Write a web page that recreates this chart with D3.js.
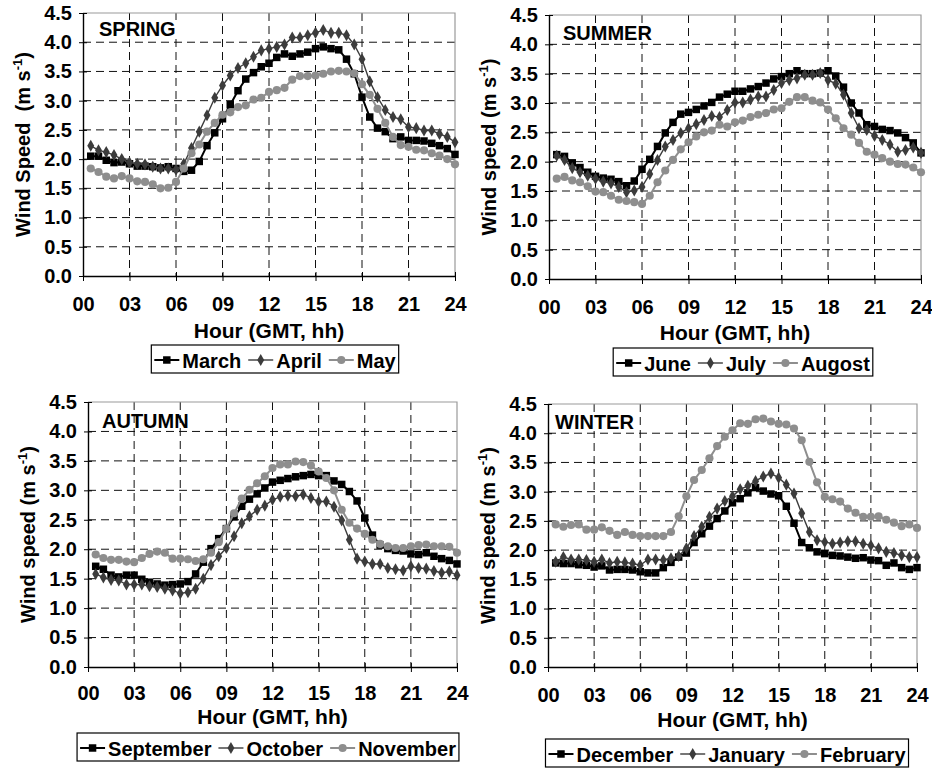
<!DOCTYPE html>
<html>
<head>
<meta charset="utf-8">
<script src="https://cdn.jsdelivr.net/npm/d3@7/dist/d3.min.js"></script>
<style>
    body { margin: 0; background: #fff; }
    text { font-family: "Liberation Sans", Arial, sans-serif; font-weight: bold; fill: #000; }
</style>
</head>
<body>
<svg id="chart" width="932" height="769"></svg>
<script>

// half-hourly means, hour of day (GMT)
var hours = [0.5, 1, 1.5, 2, 2.5, 3, 3.5, 4, 4.5, 5, 5.5, 6,
             6.5, 7, 7.5, 8, 8.5, 9, 9.5, 10, 10.5, 11, 11.5, 12,
             12.5, 13, 13.5, 14, 14.5, 15, 15.5, 16, 16.5, 17, 17.5, 18,
             18.5, 19, 19.5, 20, 20.5, 21, 21.5, 22, 22.5, 23, 23.5, 24];

var hour_ticks = [0, 3, 6, 9, 12, 15, 18, 21, 24];
var hour_labels = ["00", "03", "06", "09", "12", "15", "18", "21", "24"];
var speed_ticks = [0, 0.5, 1, 1.5, 2, 2.5, 3, 3.5, 4, 4.5];

// spring
var march = [2.05, 2.05, 1.98, 1.94, 1.95, 1.92, 1.88, 1.88, 1.87, 1.85, 1.87, 1.84,
             1.79, 1.81, 1.96, 2.23, 2.45, 2.69, 2.93, 3.17, 3.37, 3.48, 3.58, 3.64,
             3.74, 3.80, 3.76, 3.80, 3.83, 3.89, 3.92, 3.89, 3.87, 3.71, 3.46, 3.06,
             2.72, 2.53, 2.47, 2.35, 2.38, 2.32, 2.32, 2.31, 2.27, 2.23, 2.18, 2.08];
var april = [2.23, 2.15, 2.12, 2.07, 2.00, 1.94, 1.92, 1.91, 1.87, 1.84, 1.84, 1.82,
             1.92, 2.19, 2.47, 2.75, 3.05, 3.26, 3.43, 3.56, 3.64, 3.75, 3.86, 3.89,
             3.92, 3.96, 4.08, 4.08, 4.12, 4.16, 4.21, 4.16, 4.16, 4.12, 3.96, 3.71,
             3.33, 3.06, 2.84, 2.72, 2.68, 2.55, 2.53, 2.49, 2.49, 2.43, 2.38, 2.29];
var may = [1.84, 1.78, 1.70, 1.67, 1.71, 1.67, 1.62, 1.61, 1.57, 1.50, 1.51, 1.61,
           1.84, 2.10, 2.25, 2.47, 2.62, 2.76, 2.80, 2.89, 2.92, 3.02, 3.05, 3.15,
           3.18, 3.22, 3.36, 3.42, 3.42, 3.43, 3.46, 3.50, 3.51, 3.50, 3.47, 3.28,
           3.10, 2.86, 2.62, 2.38, 2.24, 2.21, 2.16, 2.15, 2.10, 2.06, 2.00, 1.91];

// summer
var june = [2.12, 2.09, 1.98, 1.90, 1.82, 1.75, 1.72, 1.70, 1.66, 1.59, 1.67, 1.87,
            2.04, 2.26, 2.49, 2.67, 2.81, 2.84, 2.89, 2.95, 3.01, 3.10, 3.15, 3.20,
            3.20, 3.24, 3.28, 3.34, 3.41, 3.45, 3.50, 3.55, 3.50, 3.50, 3.51, 3.55,
            3.46, 3.27, 3.00, 2.83, 2.63, 2.60, 2.55, 2.53, 2.49, 2.41, 2.32, 2.15];
var july = [2.10, 2.03, 1.89, 1.82, 1.76, 1.71, 1.66, 1.63, 1.57, 1.48, 1.51, 1.57,
            1.79, 2.03, 2.26, 2.37, 2.49, 2.57, 2.64, 2.71, 2.78, 2.76, 2.88, 3.01,
            3.01, 3.06, 3.11, 3.11, 3.22, 3.34, 3.39, 3.42, 3.48, 3.48, 3.51, 3.39,
            3.33, 3.14, 2.83, 2.57, 2.54, 2.44, 2.37, 2.29, 2.17, 2.20, 2.24, 2.15];
var augost = [1.71, 1.74, 1.68, 1.65, 1.58, 1.49, 1.48, 1.42, 1.35, 1.33, 1.31, 1.28,
              1.42, 1.65, 1.85, 2.03, 2.21, 2.33, 2.43, 2.50, 2.53, 2.63, 2.60, 2.67,
              2.70, 2.76, 2.80, 2.83, 2.89, 2.91, 3.02, 3.10, 3.10, 3.04, 3.01, 2.89,
              2.74, 2.57, 2.46, 2.32, 2.17, 2.12, 2.06, 2.00, 1.96, 1.95, 1.90, 1.82];

// autumn
var september = [1.71, 1.66, 1.56, 1.53, 1.56, 1.56, 1.49, 1.44, 1.41, 1.39, 1.40, 1.41,
                 1.45, 1.58, 1.78, 2.01, 2.18, 2.35, 2.55, 2.73, 2.85, 2.94, 3.04, 3.14,
                 3.17, 3.20, 3.23, 3.25, 3.27, 3.25, 3.25, 3.16, 3.10, 2.98, 2.82, 2.53,
                 2.24, 2.07, 2.01, 1.98, 1.97, 1.92, 1.91, 1.94, 1.88, 1.84, 1.81, 1.75];
var october = [1.58, 1.52, 1.48, 1.47, 1.40, 1.40, 1.40, 1.37, 1.36, 1.33, 1.30, 1.25,
               1.27, 1.33, 1.50, 1.73, 1.88, 2.02, 2.22, 2.44, 2.56, 2.67, 2.74, 2.84,
               2.89, 2.91, 2.90, 2.93, 2.87, 2.81, 2.81, 2.72, 2.49, 2.16, 1.84, 1.79,
               1.75, 1.75, 1.68, 1.66, 1.64, 1.71, 1.68, 1.67, 1.63, 1.60, 1.62, 1.56];
var november = [1.91, 1.85, 1.82, 1.82, 1.79, 1.78, 1.85, 1.92, 1.96, 1.94, 1.84, 1.84,
                1.83, 1.80, 1.83, 1.94, 2.12, 2.35, 2.61, 2.86, 3.01, 3.12, 3.24, 3.38,
                3.44, 3.44, 3.49, 3.48, 3.42, 3.32, 3.21, 3.00, 2.67, 2.45, 2.35, 2.26,
                2.16, 2.09, 2.05, 2.02, 2.02, 2.05, 2.07, 2.08, 2.05, 2.05, 2.04, 1.94];

// winter
var december = [1.78, 1.77, 1.77, 1.75, 1.74, 1.71, 1.73, 1.66, 1.67, 1.67, 1.66, 1.63,
                1.61, 1.61, 1.70, 1.79, 1.88, 1.95, 2.13, 2.28, 2.41, 2.54, 2.67, 2.81,
                2.88, 2.98, 3.07, 3.01, 2.96, 2.93, 2.75, 2.46, 2.13, 2.04, 1.97, 1.94,
                1.91, 1.90, 1.88, 1.86, 1.87, 1.83, 1.82, 1.74, 1.78, 1.70, 1.67, 1.70];
var january = [1.80, 1.88, 1.84, 1.84, 1.83, 1.80, 1.84, 1.78, 1.80, 1.79, 1.77, 1.74,
               1.84, 1.84, 1.83, 1.86, 1.90, 2.03, 2.24, 2.40, 2.57, 2.71, 2.84, 2.92,
               3.04, 3.10, 3.18, 3.26, 3.31, 3.24, 3.12, 2.97, 2.63, 2.31, 2.17, 2.14,
               2.11, 2.13, 2.15, 2.15, 2.11, 2.08, 2.03, 1.97, 1.95, 1.91, 1.88, 1.88];
var february = [2.44, 2.40, 2.43, 2.44, 2.35, 2.35, 2.39, 2.33, 2.26, 2.31, 2.26, 2.24,
                2.24, 2.24, 2.24, 2.31, 2.58, 2.92, 3.20, 3.37, 3.57, 3.78, 3.94, 4.05,
                4.17, 4.16, 4.24, 4.25, 4.20, 4.16, 4.15, 4.08, 3.88, 3.51, 3.16, 2.91,
                2.87, 2.83, 2.71, 2.64, 2.57, 2.57, 2.58, 2.52, 2.47, 2.41, 2.44, 2.38];

var season_names = ["SPRING", "SUMMER", "AUTUMN", "WINTER"];
var month_names = [["March", "April", "May"],
                   ["June", "July", "Augost"],
                   ["September", "October", "November"],
                   ["December", "January", "February"]];
var month_values = [[march, april, may],
                    [june, july, augost],
                    [september, october, november],
                    [december, january, february]];
var speed_words = ["Wind Speed\u00a0 (m s", "Wind speed (m s", "Wind speed (m s", "Wind speed (m s"];

// plot boxes of the four panels
var panels = [
    {left: 83, right: 455, top: 13, bottom: 276, tick_pad: 16, title_gap: 62, legend_gap: 69, legend_cx: 275, label_dx: 16, label_dy: 23, label_bg: true},
    {left: 549, right: 921, top: 15, bottom: 279, tick_pad: 16, title_gap: 61, legend_gap: 69, legend_cx: 743, label_dx: 14, label_dy: 25, label_bg: true},
    {left: 88, right: 457, top: 402, bottom: 667, tick_pad: 14, title_gap: 57, legend_gap: 66, legend_cx: 268, label_dx: 14, label_dy: 26, label_bg: false},
    {left: 548, right: 917, top: 404, bottom: 667, tick_pad: 16, title_gap: 60, legend_gap: 72, legend_cx: 727, label_dx: 7, label_dy: 25, label_bg: true}
];

var styles = [
    {stroke: "#000", width: 2, shape: d3.symbolSquare, size: 56},
    {stroke: "#3c3c3c", width: 1.4, shape: d3.symbolDiamond, size: 42},
    {stroke: "#8e8e8e", width: 2, shape: d3.symbolCircle, size: 52}
];

var svg = d3.select("#chart");

panels.forEach(function(p, k) {

    var g = svg.append("g");

    var x = d3.scaleLinear().domain([0, 24]).range([p.left, p.right]),
        y = d3.scaleLinear().domain([0, 4.5]).range([p.bottom, p.top]);

    // grid
    g.append("g").selectAll("line")
        .data(speed_ticks.slice(1, -1))
        .enter().append("line")
        .attr("x1", p.left).attr("x2", p.right)
        .attr("y1", function(d) { return y(d); })
        .attr("y2", function(d) { return y(d); })
        .attr("stroke", "#111").attr("stroke-dasharray", "8,5");

    g.append("g").selectAll("line")
        .data(hour_ticks.slice(1, -1))
        .enter().append("line")
        .attr("y1", p.top).attr("y2", p.bottom)
        .attr("x1", function(d) { return x(d); })
        .attr("x2", function(d) { return x(d); })
        .attr("stroke", "#111").attr("stroke-dasharray", "8,5");

    // gray frame top / right
    g.append("path")
        .attr("d", "M" + p.left + "," + p.top + "H" + p.right + "V" + p.bottom)
        .attr("fill", "none").attr("stroke", "#9a9a9a").attr("stroke-width", 1.2);

    // axes
    var x_axis = d3.axisBottom(x)
        .tickValues(hour_ticks)
        .tickFormat(function(d, i) { return hour_labels[i]; })
        .tickSizeInner(5).tickSizeOuter(0).tickPadding(p.tick_pad);

    var xg = g.append("g")
        .attr("transform", "translate(0," + p.bottom + ")")
        .call(x_axis);
    xg.selectAll("line").attr("y1", -4).attr("stroke", "#000");
    xg.select(".domain").attr("stroke", "#000").attr("stroke-width", 1.4);
    xg.selectAll("text").attr("font-size", 20).attr("font-family", null);

    var y_axis = d3.axisLeft(y)
        .tickValues(speed_ticks)
        .tickFormat(d3.format(".1f"))
        .tickSizeInner(4).tickSizeOuter(0).tickPadding(7);

    var yg = g.append("g")
        .attr("transform", "translate(" + p.left + ",0)")
        .call(y_axis);
    yg.selectAll("line").attr("x1", 4).attr("stroke", "#000");
    yg.select(".domain").attr("stroke", "#000").attr("stroke-width", 1.4);
    yg.selectAll("text").attr("font-size", 20).attr("font-family", null);

    // axis titles
    g.append("text")
        .attr("x", (p.left + p.right) / 2)
        .attr("y", p.bottom + p.title_gap)
        .attr("text-anchor", "middle")
        .attr("font-size", 21)
        .text("Hour (GMT, hh)");

    var yt = g.append("text")
        .attr("transform", "translate(" + (p.left - 60) + "," + ((p.top + p.bottom) / 2) + ") rotate(-90)")
        .attr("dy", "0.35em")
        .attr("text-anchor", "middle")
        .attr("font-size", 20);
    yt.append("tspan").text(speed_words[k]);
    yt.append("tspan").attr("font-size", 13).attr("dy", "-0.6em").text("-1");
    yt.append("tspan").attr("dy", "0.4em").text(")");

    // lines and markers
    var line = d3.line()
        .x(function(d, i) { return x(hours[i]); })
        .y(function(d) { return y(d); });

    month_values[k].forEach(function(values, s) {
        var st = styles[s];
        g.append("path")
            .datum(values)
            .attr("d", line)
            .attr("fill", "none")
            .attr("stroke", st.stroke)
            .attr("stroke-width", st.width);

        g.append("g").selectAll("path")
            .data(values)
            .enter().append("path")
            .attr("d", d3.symbol().type(st.shape).size(st.size))
            .attr("transform", function(d, i) {
                return "translate(" + x(hours[i]) + "," + y(d) + ")";
            })
            .attr("fill", st.stroke);
    });

    // season label
    var label = g.append("text")
        .attr("x", p.left + p.label_dx)
        .attr("y", p.top + p.label_dy)
        .attr("font-size", 20)
        .text(season_names[k]);
    if (p.label_bg) {
        var bb = label.node().getBBox();
        g.insert("rect", function() { return label.node(); })
            .attr("x", bb.x - 2).attr("y", bb.y + 2)
            .attr("width", bb.width + 4).attr("height", bb.height - 4)
            .attr("fill", "#fff");
    }

    // legend
    var lg = g.append("g"),
        cursor = 3;
    month_names[k].forEach(function(name, s) {
        var st = styles[s];
        lg.append("line")
            .attr("x1", cursor).attr("x2", cursor + 25)
            .attr("y1", 15).attr("y2", 15)
            .attr("stroke", st.stroke).attr("stroke-width", st.width);
        lg.append("path")
            .attr("d", d3.symbol().type(st.shape).size(st.size))
            .attr("transform", "translate(" + (cursor + 12.5) + ",15)")
            .attr("fill", st.stroke);
        var t = lg.append("text")
            .attr("x", cursor + 28).attr("y", 23)
            .attr("font-size", 20)
            .text(name);
        cursor += 28 + t.node().getComputedTextLength() + 7;
    });
    var lw = cursor - 4;
    lg.insert("rect", ":first-child")
        .attr("x", 0).attr("y", 0)
        .attr("width", lw).attr("height", 28)
        .attr("fill", "#fff").attr("stroke", "#000").attr("stroke-width", 1.2);
    lg.attr("transform", "translate(" + (p.legend_cx - lw / 2) + "," + (p.bottom + p.legend_gap) + ")");
});

</script>
</body>
</html>
